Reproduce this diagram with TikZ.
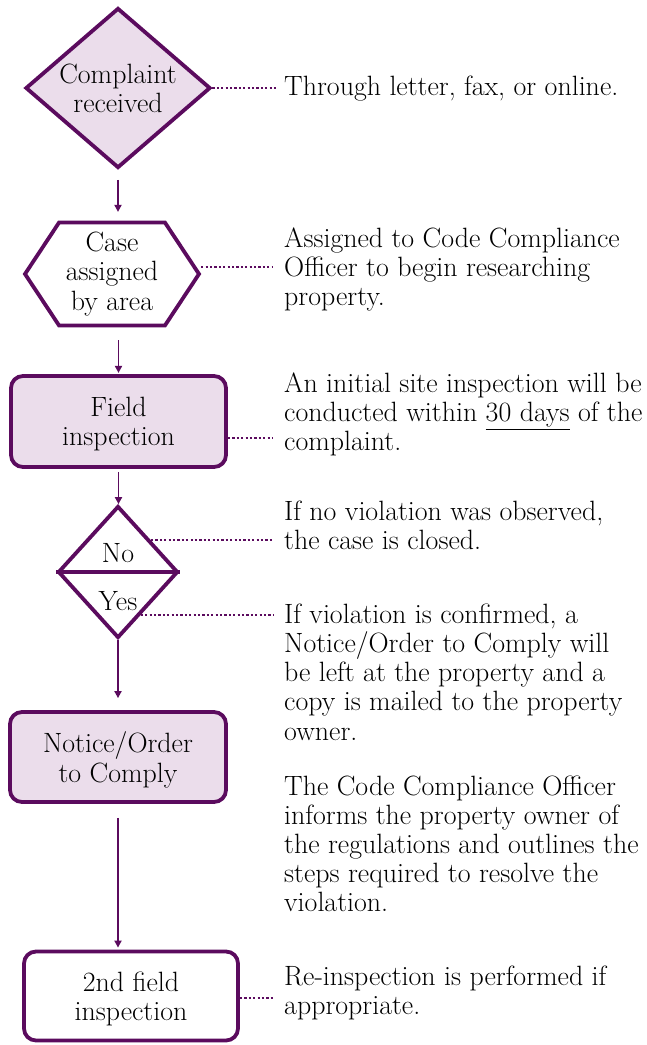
\documentclass[tikz,border=0pt]{standalone}
\usepackage{fontspec}
\usepackage{tikz}
\usepackage{xcolor}
\usetikzlibrary{shapes.geometric,shapes.symbols,arrows.meta}

\definecolor{plum}{HTML}{5B0B5E}
\definecolor{lilac}{HTML}{EBDDEB}

\begin{document}
\begin{tikzpicture}[x=1pt,y=-1pt,
        font=\fontsize{27.9}{29.2}\selectfont,
        every node/.style={inner sep=0pt},
        outline/.style={draw=plum, line width=3.8pt},
        box/.style={outline, rectangle, rounded corners=12pt, align=center, text depth=0pt},
        flow/.style={draw=plum, line width=1.8pt, -{Triangle[width=7pt,length=7pt]}},
        link/.style={draw=plum, line width=2.2pt, dash pattern=on 2.2pt off 2.2pt, shorten >=11pt},
        note/.style={anchor=north west, align=left}]
            %\draw[help lines] (0,0) grid[step=50] (647,1045);
            \useasboundingbox (0,0) rectangle (647,1045);

            % steps on the left
            \node[outline, diamond, fill=lilac, aspect=1.15, minimum width=185pt, minimum height=160pt, align=center] (complaint) at (118,88) {Complaint\\received};
            \node[outline, signal, signal to=west and east, signal pointer angle=113, minimum width=174pt, minimum height=103pt, align=center] (assign) at (112,274) {Case\\assigned\\by area};
            \node[box, fill=lilac, minimum width=215pt, minimum height=91pt] (field) at (118.5,421.5) {Field\\inspection};

            \node[outline, diamond, fill=white, minimum width=120pt, minimum height=132pt] (decide) at (118,572) {};
            \draw[plum, line width=3.8pt] (decide.west) -- (decide.east);
            \node[anchor=base] (nolabel) at (118,562) {No};
            \node[anchor=base] (yeslabel) at (118,610) {Yes};

            \node[box, fill=lilac, minimum width=216pt, minimum height=90pt] (notice) at (118,757) {Notice/Order\\to Comply};
            \node[box, fill=white, minimum width=214pt, minimum height=89pt] (recheck) at (131,996) {2nd field\\inspection};

            % notes on the right
            \node[note] (thru) at (284,75.6) {Through letter, fax, or online.};
            \node[note] (assigntext) at (284,227.6) {Assigned to Code Compliance\\Officer to begin researching\\property.};
            \node[note] (fieldtext) at (284,372.6) {An initial site inspection will be\\conducted within \underline{30 days} of the\\complaint.};
            \node[note] (notext) at (284,500.6) {If no violation was observed,\\the case is closed.};
            \node[note] (yestext) at (284,603.6) {If violation is confirmed, a\\Notice/Order to Comply will\\be left at the property and a\\copy is mailed to the property\\owner.\\[25.8pt]The Code Compliance Officer\\informs the property owner of\\the regulations and outlines the\\steps required to resolve the\\violation.};
            \node[note] (retext) at (284,965.6) {Re-inspection is performed if\\appropriate.};

            % arrows down
            \draw[flow, shorten <=10pt, shorten >=8.7pt] (complaint.south) -- (complaint.south |- assign.north);
            \draw[flow, shorten <=12.7pt, shorten >=1.2pt] (assign.south -| field.north) -- (field.north);
            \draw[flow, shorten <=3pt] (field.south) -- (field.south |- decide.north);
            \draw[flow, shorten >=12pt] (decide.south) -- (decide.south |- notice.north);
            \draw[flow, shorten <=14pt, shorten >=2pt] (notice.south) -- (notice.south |- recheck.north);

            % dotted links to the notes
            \draw[link, shorten >=6pt] (complaint.east) -- (complaint.east -| thru.west);
            \draw[link] ([yshift=7pt]assign.east) -- ([yshift=7pt]assign.east -| assigntext.west);
            \draw[link] ([yshift=-16.5pt]field.east) -- ([yshift=-16.5pt]field.east -| fieldtext.west);
            \draw[link] (decide.44) -- (decide.44 -| notext.west);
            \draw[link] (decide.-62) -- (decide.-62 -| yestext.west);
            \draw[link] ([yshift=-2pt]recheck.east) -- ([yshift=-2pt]recheck.east -| retext.west);

\end{tikzpicture}
\end{document}
